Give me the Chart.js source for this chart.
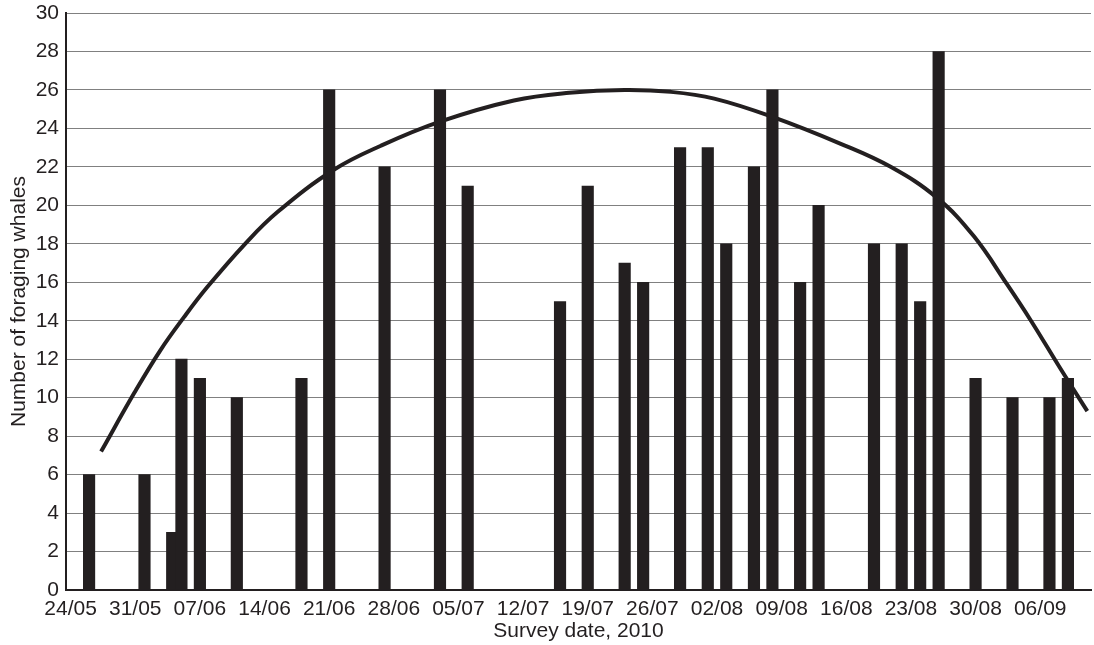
<!DOCTYPE html>
<html>
<head>
<meta charset="utf-8">
<script src="https://cdn.jsdelivr.net/npm/chart.js@4.4.1/dist/chart.umd.min.js"></script>
<style>
  html, body { margin: 0; padding: 0; background: #ffffff; }
  #wrap { width: 1094px; height: 645px; }
</style>
</head>
<body>
<div id="wrap"><canvas id="c" width="1094" height="645"></canvas></div>
<script>
// Survey dates (dd/mm, 2010) and number of foraging whales
const surveyDates = ["26/05","01/06","04/06","05/06","07/06","11/06","18/06","21/06","27/06",
  "03/07","06/07","16/07","19/07","23/07","25/07","29/07","01/08","03/08","06/08","08/08",
  "11/08","13/08","19/08","22/08","24/08","26/08","30/08","03/09","07/09","09/09"];
const whaleCounts = [6,6,3,12,11,10,11,26,22,26,21,15,21,17,16,23,23,18,22,26,16,20,18,18,15,28,11,10,10,11];

// Fitted trend curve (days after 24/05, value)
const curveDays   = [3.3, 6.9, 9.7, 12.3, 14.8, 18.8, 22.4, 28.5, 33.6, 40.0, 48.0, 54.0, 60.0,
                     65.0, 69.7, 76.0, 83.4, 88.8, 93.8, 97.8, 101.4, 104.0, 107.2, 110.1];
const curveValues = [7.2, 10.25, 12.45, 14.2, 15.75, 17.95, 19.65, 21.85, 23.1, 24.35, 25.45, 25.85, 26.0,
                     25.9, 25.55, 24.6, 23.2, 22.0, 20.4, 18.4, 15.9, 14.0, 11.5, 9.3];

// Axis tick labels
const xTickLabels = ["24/05","31/05","07/06","14/06","21/06","28/06","05/07","12/07","19/07",
  "26/07","02/08","09/08","16/08","23/08","30/08","06/09"];
const yTicks = [0,2,4,6,8,10,12,14,16,18,20,22,24,26,28,30];

const ORIGIN = Date.UTC(2010, 4, 24);
function dayOf(s) {
  const [d, m] = s.split("/").map(Number);
  return Math.round((Date.UTC(2010, m - 1, d) - ORIGIN) / 86400000);
}
const xTickDays = xTickLabels.map(dayOf);
const labelByDay = {};
xTickLabels.forEach((l, i) => labelByDay[xTickDays[i]] = l);

const ink = "#231f20";
const fontFam = "'Liberation Sans', Arial, Helvetica, sans-serif";

const barData = surveyDates.map((d, i) => ({ x: dayOf(d), y: whaleCounts[i] }));
const curveData = curveDays.map((d, i) => ({ x: d, y: curveValues[i] }));

new Chart(document.getElementById("c"), {
  data: {
    datasets: [
      {
        type: "line",
        data: curveData,
        borderColor: ink,
        borderWidth: 4,
        pointRadius: 0,
        fill: false,
        tension: 0.4,
        order: 0
      },
      {
        type: "bar",
        data: barData,
        backgroundColor: ink,
        borderWidth: 0,
        barThickness: 11.5,
        order: 1
      }
    ]
  },
  options: {
    responsive: false,
    animation: false,
    events: [],
    layout: { padding: { top: 13, right: 3, left: 0, bottom: 0 } },
    plugins: { legend: { display: false }, tooltip: { enabled: false } },
    scales: {
      x: {
        type: "linear",
        offset: false,
        min: -0.5,
        max: 110.5,
        afterBuildTicks: (s) => { s.ticks = xTickDays.map(v => ({ value: v })); },
        afterFit: (s) => { s.height = 55; s.paddingLeft = 0; s.paddingRight = 0; },
        grid: { display: false, drawTicks: false, offset: false },
        border: { display: true, color: ink, width: 2 },
        ticks: {
          autoSkip: false,
          maxRotation: 0,
          padding: 7,
          color: ink,
          font: { family: fontFam, size: 21 },
          callback: (v) => labelByDay[v] ?? ""
        },
        title: {
          display: true,
          text: "Survey date, 2010",
          color: ink,
          font: { family: fontFam, size: 21 },
          padding: { top: 0, bottom: 1 }
        }
      },
      y: {
        type: "linear",
        min: 0,
        max: 30,
        afterBuildTicks: (s) => { s.ticks = yTicks.map(v => ({ value: v })); },
        afterFit: (s) => { s.width = 66; s.paddingTop = 0; s.paddingBottom = 0; },
        grid: { color: "#808080", lineWidth: 1, drawTicks: false },
        border: { display: true, color: ink, width: 2 },
        ticks: {
          padding: 7,
          color: ink,
          font: { family: fontFam, size: 21 }
        },
        title: {
          display: true,
          text: "Number of foraging whales",
          color: ink,
          font: { family: fontFam, size: 21 },
          padding: { top: 7, bottom: 0 }
        }
      }
    }
  }
});
</script>
</body>
</html>
